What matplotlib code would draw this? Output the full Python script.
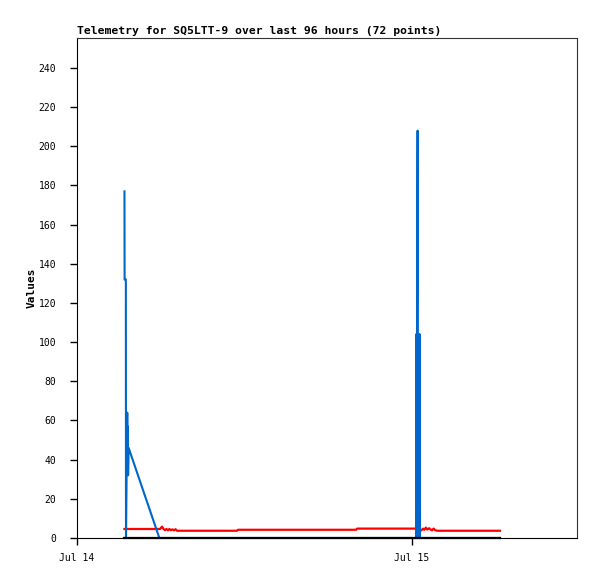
import matplotlib
matplotlib.use("Agg")
import matplotlib.pyplot as plt

# hours since Jul 14 00:00
hours = [3.40, 3.41, 3.50, 3.51, 3.60, 3.62, 3.64, 3.66, 3.70,
         5.90, 5.95, 6.09, 6.20, 6.30, 6.41, 6.52, 6.62, 6.73, 6.84, 6.95, 7.06, 7.16, 7.38,
         8.81, 10.24, 11.46, 11.53, 13.11, 14.54, 15.98, 17.41, 18.84, 19.99, 20.06,
         21.71, 23.14, 24.287, 24.301, 24.330, 24.358, 24.401, 24.415, 24.458,
         24.487, 24.530, 24.559, 24.573,
         24.68, 24.79, 24.89, 24.99, 25.10, 25.22, 25.32, 25.43, 25.54, 25.65, 25.79,
         27.44, 28.87, 30.30]
blue = [177, 132, 132, 0, 64, 44, 57, 32, 46,
        0, 0, 0, 0, 0, 0, 0, 0, 0, 0, 0, 0, 0, 0,
        0, 0, 0, 0, 0, 0, 0, 0, 0, 0, 0,
        0, 0, 0, 104, 0, 104, 208, 104, 0,
        104, 0, 104, 0,
        0, 0, 0, 0, 0, 0, 0, 0, 0, 0, 0,
        0, 0, 0]
red = [4.6, 4.6, 4.6, 4.6, 4.6, 4.6, 4.6, 4.6, 4.6,
       4.6, 4.6, 5.8, 4.6, 4.0, 4.6, 3.9, 4.6, 4.0, 4.4, 3.9, 4.5, 3.7, 3.7,
       3.7, 3.7, 3.7, 4.2, 4.2, 4.2, 4.2, 4.2, 4.2, 4.2, 4.8,
       4.8, 4.8, 4.8, 4.8, 4.4, 4.8, 4.4, 4.8, 4.4,
       4.8, 4.4, 4.8, 4.4,
       3.9, 4.8, 4.2, 5.3, 4.3, 5.0, 4.4, 3.9, 4.8, 4.1, 3.7,
       3.7, 3.7, 3.7]
black = [0] * len(hours)

tick_pos = [0, 24]
tick_lab = ["Jul 14", "Jul 15"]

plt.rcParams['font.family'] = 'DejaVu Sans Mono'

fig = plt.figure(figsize=(5.97, 5.79), dpi=100)
ax = fig.add_axes([77/597, 1-538/579, 500/597, 500/579])

ax.plot(hours, red, color="#ff0000", lw=1.6, zorder=2)
ax.plot(hours, blue, color="#0066cc", lw=1.5, zorder=3)
ax.plot(hours, black, color="black", lw=1.6, zorder=4, clip_on=False)

ax.set_xlim(0, 35.82)
ax.set_ylim(0, 255.3)
ax.set_yticks(range(0, 241, 20))
ax.set_xticks(tick_pos)
ax.set_xticklabels(tick_lab)
ax.tick_params(axis='both', labelsize=7, length=5, width=1, direction='out', pad=10)
ax.tick_params(axis='x', pad=6)
ax.spines['top'].set_color('#333333')
ax.spines['right'].set_color('#333333')

ax.set_ylabel("Values", fontsize=8, fontweight='bold', labelpad=1)
ax.set_title("Telemetry for SQ5LTT-9 over last 96 hours (72 points)",
             fontsize=8.2, fontweight='bold', loc='left', pad=3)

fig.savefig("out.png", dpi=100)
